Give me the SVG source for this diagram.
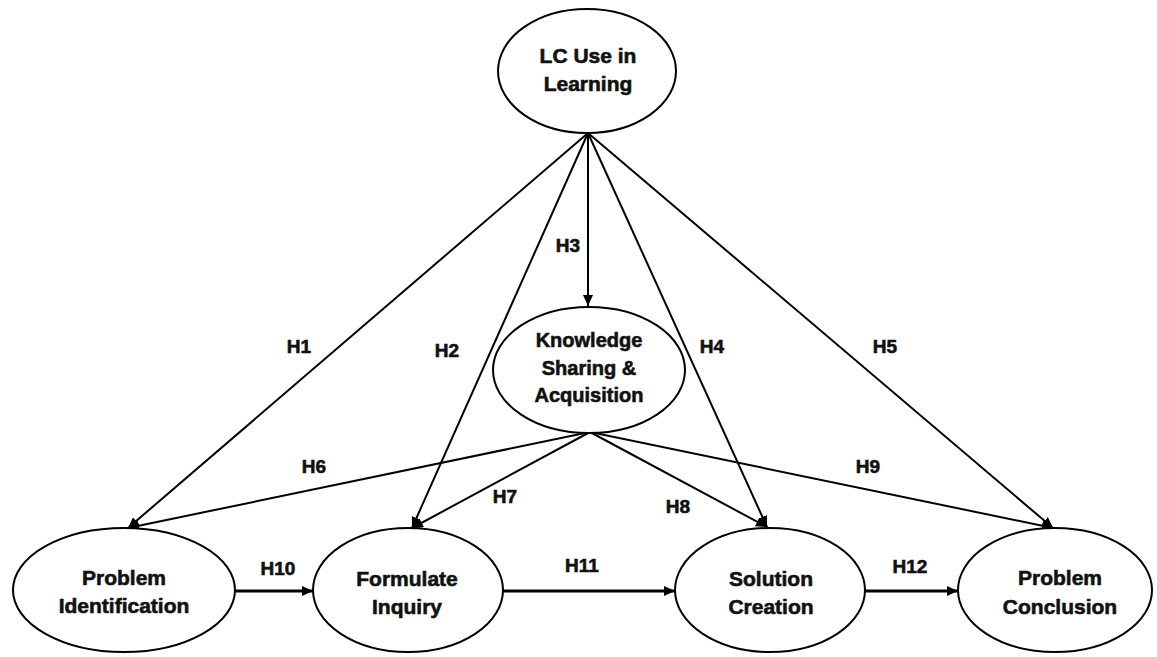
<svg xmlns="http://www.w3.org/2000/svg" width="1157" height="657" viewBox="0 0 1157 657">
  <style>
    .node ellipse { fill: #ffffff; stroke: #000000; stroke-width: 2; }
    .node text { font-family: "Liberation Sans", Arial, sans-serif; font-weight: bold; font-size: 21px; fill: #111111; stroke: #111111; stroke-width: 0.6; text-anchor: middle; }
    .edge { stroke: #000000; stroke-width: 2; fill: none; marker-end: url(#arrow); }
    .edge.thick { stroke-width: 3; }
    .lbl { font-family: "Liberation Sans", Arial, sans-serif; font-weight: bold; font-size: 19px; fill: #111111; stroke: #111111; stroke-width: 0.6; text-anchor: middle; }
  </style>
  <defs>
    <marker id="arrow" markerUnits="userSpaceOnUse" markerWidth="12" markerHeight="10" viewBox="0 0 12 10" refX="11" refY="5" orient="auto">
      <path d="M0,0 L11,5 L0,10 Z" fill="#000000"/>
    </marker>
  </defs>
  <rect width="1157" height="657" fill="#ffffff"/>

  <!-- connectors -->
  <g id="connectors">
    <line class="edge" x1="588" y1="133" x2="128" y2="528"/>
    <line class="edge" x1="588" y1="133" x2="412" y2="528"/>
    <line class="edge" x1="588" y1="133" x2="588" y2="306"/>
    <line class="edge" x1="588" y1="133" x2="767" y2="527"/>
    <line class="edge" x1="588" y1="133" x2="1053" y2="528"/>
    <line class="edge" x1="590" y1="432" x2="128" y2="528"/>
    <line class="edge" x1="590" y1="432" x2="412" y2="528"/>
    <line class="edge" x1="590" y1="432" x2="767" y2="527"/>
    <line class="edge" x1="590" y1="432" x2="1053" y2="528"/>
    <line class="edge thick" x1="235" y1="591" x2="313" y2="591"/>
    <line class="edge thick" x1="502" y1="591" x2="675" y2="591"/>
    <line class="edge thick" x1="864" y1="591" x2="958" y2="591"/>

    <text class="lbl" x="299" y="353">H1</text>
    <text class="lbl" x="447" y="357">H2</text>
    <text class="lbl" x="568" y="252">H3</text>
    <text class="lbl" x="712" y="353">H4</text>
    <text class="lbl" x="885" y="353">H5</text>
    <text class="lbl" x="314" y="473">H6</text>
    <text class="lbl" x="505" y="503">H7</text>
    <text class="lbl" x="678" y="513">H8</text>
    <text class="lbl" x="868" y="473">H9</text>
    <text class="lbl" x="278" y="575">H10</text>
    <text class="lbl" x="582" y="572">H11</text>
    <text class="lbl" x="910" y="573">H12</text>
  </g>

  <!-- nodes -->
  <g id="lc-use" class="node">
    <ellipse cx="587" cy="71" rx="89" ry="62"/>
    <text x="588" y="63">LC Use in</text>
    <text x="588" y="91">Learning</text>
  </g>
  <g id="knowledge" class="node">
    <ellipse cx="589" cy="370" rx="96" ry="63"/>
    <text x="589" y="347" style="font-size:20px">Knowledge</text>
    <text x="589" y="375" style="font-size:20px">Sharing &amp;</text>
    <text x="589" y="402" style="font-size:20px">Acquisition</text>
  </g>
  <g id="problem-identification" class="node">
    <ellipse cx="124" cy="590" rx="111" ry="62"/>
    <text x="124" y="585">Problem</text>
    <text x="124" y="613">Identification</text>
  </g>
  <g id="formulate-inquiry" class="node">
    <ellipse cx="408" cy="590" rx="95" ry="62"/>
    <text x="407" y="586">Formulate</text>
    <text x="407" y="614">Inquiry</text>
  </g>
  <g id="solution-creation" class="node">
    <ellipse cx="770" cy="590" rx="95" ry="62"/>
    <text x="771" y="586">Solution</text>
    <text x="771" y="614">Creation</text>
  </g>
  <g id="problem-conclusion" class="node">
    <ellipse cx="1055" cy="590" rx="97" ry="62"/>
    <text x="1060" y="585">Problem</text>
    <text x="1060" y="614">Conclusion</text>
  </g>
</svg>
